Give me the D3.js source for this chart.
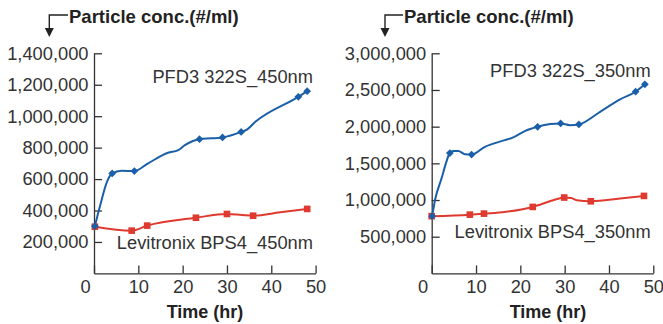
<!DOCTYPE html>
<html>
<head>
<meta charset="utf-8">
<script src="https://cdn.jsdelivr.net/npm/d3@7"></script>
<style>
  body { margin: 0; background: #fff; }
  svg { display: block; font-family: "Liberation Sans", Arial, sans-serif; }
</style>
</head>
<body>
<svg width="663" height="324"></svg>
<script>
// x ticks shared by both panels
const hourTicks = [0, 10, 20, 30, 40, 50];

// left panel, 450nm
const ticks450 = [200000, 400000, 600000, 800000, 1000000, 1200000, 1400000];
const pfdHours450 = [0.2, 1.4, 2.9, 4.1, 6.2, 9.1, 12.2, 16.7, 19.0, 20.5, 23.8, 29.0, 33.2, 34.5, 36.4, 46.1, 48.1];
const pfdConc450 = [300000, 433000, 581000, 636000, 653000, 651000, 700000, 767000, 784000, 816000, 854000, 865000, 900000, 915000, 964000, 1123000, 1159000];
const pfdMarks450 = [1, 0, 0, 1, 0, 1, 0, 0, 0, 0, 1, 1, 1, 0, 0, 1, 1];
const levHours450 = [0.2, 8.5, 12.0, 23.0, 30.0, 33.4, 35.9, 42.0, 48.1];
const levConc450 = [297000, 272000, 304000, 354000, 378000, 371000, 367000, 389000, 410000];
const levMarks450 = [1, 1, 1, 1, 1, 0, 1, 0, 1];

// right panel, 350nm
const ticks350 = [500000, 1000000, 1500000, 2000000, 2500000, 3000000];
const pfdHours350 = [0.1, 0.75, 2.3, 3.2, 4.1, 4.9, 6.0, 7.5, 9.0, 12.0, 16.5, 18.4, 21.0, 23.9, 26.7, 29.1, 31.2, 33.2, 38.0, 42.5, 46.0, 48.1];
const pfdConc350 = [780000, 1000000, 1310000, 1500000, 1641000, 1669000, 1669000, 1625000, 1619000, 1725000, 1816000, 1854000, 1939000, 1998000, 2035000, 2044000, 2021000, 2031000, 2203000, 2372000, 2476000, 2577000];
const pfdMarks350 = [1, 0, 0, 0, 1, 0, 0, 0, 1, 0, 0, 0, 0, 1, 0, 1, 0, 1, 0, 0, 1, 1];
const levHours350 = [0.0, 8.6, 11.8, 16.5, 22.8, 27.4, 29.9, 31.5, 32.7, 35.9, 42.5, 47.9];
const levConc350 = [780000, 801000, 815000, 837000, 906000, 997000, 1034000, 1028000, 997000, 983000, 1020000, 1056000];
const levMarks350 = [1, 1, 1, 0, 1, 0, 1, 0, 0, 1, 0, 1];

const blue = '#1a5fa8';
const red = '#df3a30';
const ink = '#333';

const svg = d3.select('svg');
svg.append('rect').attr('width', 663).attr('height', 324).attr('fill', '#fff');

function zip(hours, conc, marks) {
	return hours.map((h, i) => ({ h: h, v: conc[i], m: marks[i] }));
}

const panels = [
	{
		left: 94, yMax: 1400000, yTicks: ticks450,
		arrowX: 49.3, titleX: 69, timeX: 205,
		pfdLabel: 'PFD3 322S_450nm', pfdY: 83.3,
		levLabel: 'Levitronix BPS4_450nm', levY: 249.3,
		pfd: zip(pfdHours450, pfdConc450, pfdMarks450),
		lev: zip(levHours450, levConc450, levMarks450)
	},
	{
		left: 431.7, yMax: 3000000, yTicks: ticks350,
		arrowX: 385, titleX: 404, timeX: 548,
		pfdLabel: 'PFD3 322S_350nm', pfdY: 77.3,
		levLabel: 'Levitronix BPS4_350nm', levY: 238,
		pfd: zip(pfdHours350, pfdConc350, pfdMarks350),
		lev: zip(levHours350, levConc350, levMarks350)
	}
];

const plotTop = 53.3, plotBottom = 273.4, plotWidth = 221.6;

panels.forEach(p => {
	const x = d3.scaleLinear().domain([0, 50]).range([p.left, p.left + plotWidth]);
	const y = d3.scaleLinear().domain([0, p.yMax]).range([plotBottom, plotTop]);

	// y axis, ticks pointing inward
	const ya = svg.append('g')
		.attr('transform', `translate(${p.left},0)`)
		.call(d3.axisLeft(y).tickValues(p.yTicks).tickSize(-8).tickSizeOuter(0)
			.tickPadding(5.5).tickFormat(d3.format(',')));

	const xa = svg.append('g')
		.attr('transform', `translate(0,${plotBottom})`)
		.call(d3.axisBottom(x).tickValues(hourTicks).tickSize(-8).tickSizeOuter(0)
			.tickPadding(6.5).tickFormat(d3.format('d')));

	[ya, xa].forEach(a => {
		a.attr('font-family', null).attr('font-size', null);
		a.selectAll('path, line').attr('stroke', ink).attr('stroke-width', 1.3);
		a.selectAll('text').attr('fill', ink).style('font-size', '18.3px');
	});
	xa.selectAll('.tick text').filter(d => d === 0).attr('dx', -9);

	// lines
	const line = d3.line().x(d => x(d.h)).y(d => y(d.v)).curve(d3.curveMonotoneX);
	svg.append('path').datum(p.lev).attr('d', line)
		.attr('fill', 'none').attr('stroke', red).attr('stroke-width', 2);
	svg.append('path').datum(p.pfd).attr('d', line)
		.attr('fill', 'none').attr('stroke', blue).attr('stroke-width', 2);

	svg.append('g').selectAll('path')
		.data(p.lev.filter(d => d.m))
		.join('path')
		.attr('d', d3.symbol(d3.symbolSquare, 44))
		.attr('transform', d => `translate(${x(d.h)},${y(d.v)})`)
		.attr('fill', red);

	svg.append('g').selectAll('path')
		.data(p.pfd.filter(d => d.m))
		.join('path')
		.attr('d', d3.symbol(d3.symbolSquare, 30))
		.attr('transform', d => `translate(${x(d.h)},${y(d.v)}) rotate(45)`)
		.attr('fill', blue);

	// series labels
	svg.append('text').attr('x', p.left + 219).attr('y', p.pfdY)
		.attr('text-anchor', 'end').attr('fill', ink).style('font-size', '18.3px')
		.text(p.pfdLabel);
	svg.append('text').attr('x', p.left + 219).attr('y', p.levY)
		.attr('text-anchor', 'end').attr('fill', ink).style('font-size', '18.3px')
		.text(p.levLabel);

	// axis titles
	svg.append('path')
		.attr('d', `M${p.titleX - 1},15H${p.arrowX}V29`)
		.attr('fill', 'none').attr('stroke', '#222').attr('stroke-width', 1.4);
	svg.append('path')
		.attr('d', `M${p.arrowX - 4.5},28L${p.arrowX + 4.5},28L${p.arrowX},37Z`)
		.attr('fill', '#222');
	svg.append('text').attr('x', p.titleX).attr('y', 22.7)
		.attr('fill', '#222').style('font-size', '18.5px').style('font-weight', 'bold')
		.text('Particle conc.(#/ml)');
	svg.append('text').attr('x', p.timeX).attr('y', 318)
		.attr('text-anchor', 'middle').attr('fill', '#222')
		.style('font-size', '18px').style('font-weight', 'bold')
		.text('Time (hr)');
});
</script>
</body>
</html>
